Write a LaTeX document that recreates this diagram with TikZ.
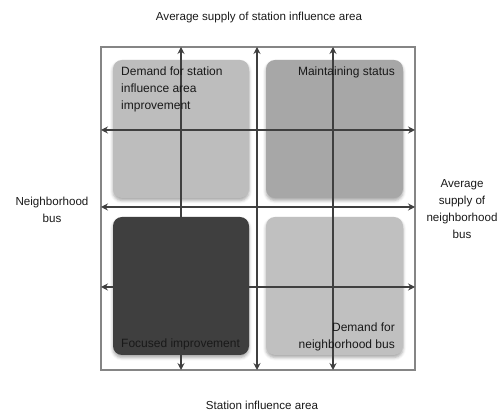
\documentclass[tikz,border=0pt]{standalone}
\usepackage{fontspec}
\setmainfont{Liberation Sans}
\usetikzlibrary{arrows.meta,shadows.blur}
\definecolor{framegray}{HTML}{858585}
\definecolor{arrowgray}{HTML}{3F3F3F}
\definecolor{boxA}{HTML}{BDBDBD}
\definecolor{boxB}{HTML}{A7A7A7}
\definecolor{boxC}{HTML}{3F3F3F}
\definecolor{boxD}{HTML}{C0C0C0}
\tikzset{
  quad/.style={draw=none, rounded corners=9pt, blur shadow={shadow xshift=0pt, shadow yshift=-2.5pt, shadow blur radius=3pt, shadow opacity=35}},
  axis/.style={draw=arrowgray, line width=1.3pt, {Stealth[length=7pt,width=7pt,inset=2.5pt]}-{Stealth[length=7pt,width=7pt,inset=2.5pt]}},
  lbl/.style={font=\fontsize{12}{17}\selectfont, text=black!90, inner sep=0pt},
  outer/.style={font=\fontsize{11.6}{17}\selectfont, text=black!90, inner sep=0pt, align=center}
}
\begin{document}
\begin{tikzpicture}[x=1pt,y=-1pt]
\useasboundingbox (0,0) rectangle (504,411);
% frame
\draw[framegray, line width=1.2pt] (101,47) rectangle (415,370);
% quadrants
\fill[quad, fill=boxA] (113,60) rectangle (249,198);
\fill[quad, fill=boxB] (266,60) rectangle (403,198);
\fill[quad, fill=boxC] (113,217) rectangle (249,355);
\fill[quad, fill=boxD] (266,217) rectangle (403,355);
% axis end points
\coordinate (v1t) at (181,47); \coordinate (v1b) at (181,370);
\coordinate (v2t) at (257,47); \coordinate (v2b) at (257,370);
\coordinate (v3t) at (333,47); \coordinate (v3b) at (333,370);
\coordinate (h1l) at (101,130); \coordinate (h1r) at (415,130);
\coordinate (h2l) at (101,207); \coordinate (h2r) at (415,207);
\coordinate (h3l) at (101,287); \coordinate (h3r) at (415,287);
\draw[axis] (v1t) -- (v1b);
\draw[axis] (v2t) -- (v2b);
\draw[axis] (v3t) -- (v3b);
\draw[axis] (h1l) -- (h1r);
\draw[axis] (h2l) -- (h2r);
\draw[axis] (h3l) -- (h3r);
% quadrant labels
\node[lbl, anchor=north west, align=left] (tA) at (121,67) {Demand for station\\influence area\\improvement};
\node[lbl, anchor=north east, align=right] (tB) at (395,67) {Maintaining status};
\node[lbl, anchor=base west, align=left] (tC) at (121,347.5) {Focused improvement};
\node[lbl, anchor=base east, align=right] (tD) at (395,348.5) {Demand for\\neighborhood bus};
% outer labels
\node[outer] (top) at (259,18) {Average supply of station influence area};
\node[outer] (bot) at (262,405) {Station influence area};
\node[outer] (left) at (52,210) {Neighborhood\\bus};
\node[outer] (right) at (462,209) {Average\\supply of\\neighborhood\\bus};
\end{tikzpicture}
\end{document}
